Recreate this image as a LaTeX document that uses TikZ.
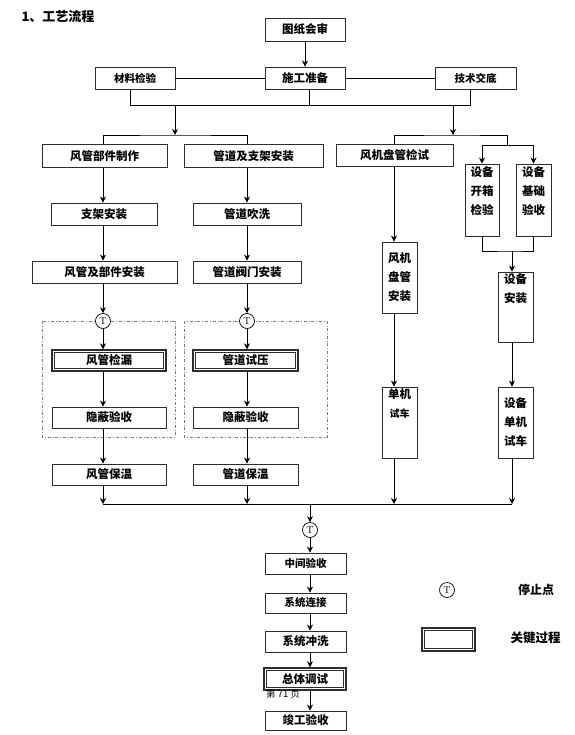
\documentclass[tikz,border=0pt]{standalone}
\usepackage{fontspec}
\newfontfamily\cjk{Noto Sans CJK SC}
\usepackage{tikz}
\usetikzlibrary{arrows.meta, positioning}
\definecolor{boxgray}{RGB}{45,45,45}
\definecolor{zonegray}{RGB}{125,125,125}

\begin{document}
\begin{tikzpicture}[x=1pt, y=-1pt,
				box/.style={rectangle, draw=boxgray, line width=0.9pt, fill=white, inner sep=0pt,
					align=center, font=\cjk\bfseries\fontsize{11.5}{14}\selectfont},
				keybox/.style={box, line width=1.3pt,
					path picture={\draw[boxgray, line width=0.6pt]
						([shift={(2.4pt,-2.4pt)}]path picture bounding box.north west) rectangle
						([shift={(-2.4pt,2.4pt)}]path picture bounding box.south east);}},
				tallbox/.style={box, minimum width=35pt, font=\cjk\bfseries\fontsize{11.5}{19}\selectfont},
				tstop/.style={circle, draw=black, line width=0.7pt, fill=white, minimum size=15pt,
					inner sep=0pt, font=\fontsize{10}{10}\selectfont},
				zone/.style={draw=zonegray, line width=0.6pt, dash dot},
				arrow/.style={-{Stealth[length=6pt, width=6pt]}, line width=0.7pt},
				link/.style={line width=0.7pt},
				legend/.style={font=\cjk\bfseries\fontsize{12}{14}\selectfont}
				]
				\useasboundingbox (0,0) rectangle (574,735);

				\node[anchor=west, font=\cjk\bfseries\fontsize{13}{15}\selectfont] (title) at (18,17) {1、工艺流程};

				\coordinate (colA) at (103,0);
				\coordinate (colB) at (247,0);
				\coordinate (colC) at (394,0);
				\coordinate (colD) at (512,0);
				\coordinate (colE) at (310,0);

				\draw[zone] (42,321) rectangle (175,437);
				\draw[zone] (184,321) rectangle (327,437);

				\node[box, minimum width=80pt, minimum height=23pt] (review) at (305,29.5) {图纸会审};
				\node[box, minimum width=80pt, minimum height=22pt] (prep) at (305,78) {施工准备};
				\node[box, minimum width=80pt, minimum height=22pt, font=\cjk\bfseries\fontsize{10.5}{12}\selectfont] (material) at (135,78) {材料检验};
				\node[box, minimum width=81pt, minimum height=22pt, font=\cjk\bfseries\fontsize{10.5}{12}\selectfont] (tech) at (475.5,78) {技术交底};

				\node[box, minimum width=125pt, minimum height=23pt] (duct) at (104.5,156) {风管部件制作};
				\node[box, minimum width=139pt, minimum height=23pt] (pipe) at (253.5,156) {管道及支架安装};
				\node[box, minimum width=117pt, minimum height=22pt] (fcu) at (394.5,155.5) {风机盘管检试};
				\node[box, minimum width=106pt, minimum height=22pt] (support) at (104,214) {支架安装};
				\node[box, minimum width=108pt, minimum height=22pt] (flush) at (247,214) {管道吹洗};
				\node[box, minimum width=145pt, minimum height=22pt] (ductinst) at (104.5,272) {风管及部件安装};
				\node[box, minimum width=108pt, minimum height=22pt] (valve) at (247,272) {管道阀门安装};

				\node[tstop] (stopA) at (103,321) {T};
				\node[tstop] (stopB) at (247,321) {T};
				\node[keybox, minimum width=114pt, minimum height=21pt] (leak) at (109,360.5) {风管检漏};
				\node[keybox, minimum width=105pt, minimum height=21pt] (pressure) at (245.5,360.5) {管道试压};
				\node[box, minimum width=114pt, minimum height=21pt] (hideA) at (109,417.5) {隐蔽验收};
				\node[box, minimum width=105pt, minimum height=21pt] (hideB) at (245.5,417.5) {隐蔽验收};
				\node[box, minimum width=114pt, minimum height=21pt] (insulA) at (109,474.5) {风管保温};
				\node[box, minimum width=105pt, minimum height=21pt] (insulB) at (245.5,474.5) {管道保温};

				\node[tallbox, minimum width=34pt, minimum height=72pt] (unpack) at (482,200) {设备\\开箱\\检验\\~};
				\node[tallbox, minimum height=72pt] (base) at (533.5,200) {设备\\基础\\验收\\~};
				\node[tallbox, minimum height=71pt] (fcuinst) at (399.5,277.5) {风机\\盘管\\安装};
				\node[tallbox, minimum height=70pt] (equip) at (515.5,307) {设备\\安装\\~\\~};
				\node[tallbox, minimum height=71pt] (trialA) at (399.5,422.5) {单机\\{\fontsize{10}{19}\selectfont 试车}\\~\\~};
				\node[tallbox, minimum height=71pt] (trialB) at (515.5,422.5) {设备\\单机\\试车};

				\node[tstop] (stopE) at (310,530) {T};
				\node[box, minimum width=81pt, minimum height=21pt, font=\cjk\bfseries\fontsize{10.5}{12}\selectfont] (mid) at (305.5,563.5) {中间验收};
				\node[box, minimum width=81pt, minimum height=20pt, font=\cjk\bfseries\fontsize{10.5}{12}\selectfont] (connect) at (305.5,603) {系统连接};
				\node[box, minimum width=81pt, minimum height=21pt] (rinse) at (305.5,641.5) {系统冲洗};
				\node[keybox, minimum width=82pt, minimum height=22pt] (debug) at (305,679) {总体调试};
				\node[font=\cjk\fontsize{9.5}{10}\selectfont] (footer) at (283,693.5) {第 71 页};
				\node[box, minimum width=81pt, minimum height=19pt] (accept) at (305.5,720.5) {竣工验收};

				\node[tstop] (legstop) at (447,590) {T};
				\node[legend] (legstoptext) at (536,590) {停止点};
				\node[keybox, minimum width=53pt, minimum height=23pt] (legkey) at (448.5,639.5) {};
				\node[legend, font=\cjk\bfseries\fontsize{12.5}{14}\selectfont] (legkeytext) at (535.5,638) {关键过程};

				\coordinate (joinTop) at (309,105);
				\coordinate (dropL) at (130,105);
				\coordinate (dropR) at (470,105);
				\coordinate (splitL) at (175,105);
				\coordinate (splitR) at (453,105);
				\coordinate (forkL) at (175,135);
				\coordinate (forkR) at (453,135);
				\coordinate (forkEq) at (507,145);
				\coordinate (joinEq) at (512,251);
				\coordinate (busL) at (103,504);
				\coordinate (busR) at (512,504);

				\draw[arrow] (review) -- (prep);
				\draw[link] (material) -- (prep);
				\draw[link] (prep) -- (tech);
				\draw[link] (dropL |- material.south) -- (dropL) -- (dropR) -- (dropR |- tech.south);
				\draw[link] (joinTop |- prep.south) -- (joinTop);
				\draw[arrow] (splitL) -- (forkL);
				\draw[arrow] (splitR) -- (forkR);
				\draw[link] (colA |- duct.north) |- (forkL) -| (colB |- pipe.north);
				\draw[link] (colC |- fcu.north) |- (forkR) -| (forkEq);
				\draw[link] (forkEq -| unpack.north) -- (forkEq -| base.north);
				\draw[arrow] (forkEq -| unpack.north) -- (unpack.north);
				\draw[arrow] (forkEq -| base.north) -- (base.north);

				\draw[arrow] (colA |- duct.south) -- (colA |- support.north);
				\draw[arrow] (colA |- support.south) -- (colA |- ductinst.north);
				\draw[arrow] (colA |- ductinst.south) -- (stopA);
				\draw[arrow] (stopA) -- (colA |- leak.north);
				\draw[arrow] (colA |- leak.south) -- (colA |- hideA.north);
				\draw[arrow] (colA |- hideA.south) -- (colA |- insulA.north);
				\draw[arrow] (colA |- insulA.south) -- (busL);

				\draw[arrow] (colB |- pipe.south) -- (colB |- flush.north);
				\draw[arrow] (colB |- flush.south) -- (colB |- valve.north);
				\draw[arrow] (colB |- valve.south) -- (stopB);
				\draw[arrow] (stopB) -- (colB |- pressure.north);
				\draw[arrow] (colB |- pressure.south) -- (colB |- hideB.north);
				\draw[arrow] (colB |- hideB.south) -- (colB |- insulB.north);
				\draw[arrow] (colB |- insulB.south) -- (colB |- busL);

				\draw[arrow] (colC |- fcu.south) -- (colC |- fcuinst.north);
				\draw[arrow] (colC |- fcuinst.south) -- (colC |- trialA.north);
				\draw[arrow] (colC |- trialA.south) -- (colC |- busL);

				\draw[link] (unpack.south) |- (joinEq) -| (base.south);
				\draw[arrow] (joinEq) -- (colD |- equip.north);
				\draw[arrow] (colD |- equip.south) -- (colD |- trialB.north);
				\draw[arrow] (colD |- trialB.south) -- (busR);

				\draw[link] (busL) -- (busR);
				\draw[arrow] (colE |- busL) -- (stopE);
				\draw[arrow] (stopE) -- (colE |- mid.north);
				\draw[arrow] (colE |- mid.south) -- (colE |- connect.north);
				\draw[arrow] (colE |- connect.south) -- (colE |- rinse.north);
				\draw[arrow] (colE |- rinse.south) -- (colE |- debug.north);
				\draw[arrow] (colE |- debug.south) -- (colE |- accept.north);
			\end{tikzpicture}
\end{document}
